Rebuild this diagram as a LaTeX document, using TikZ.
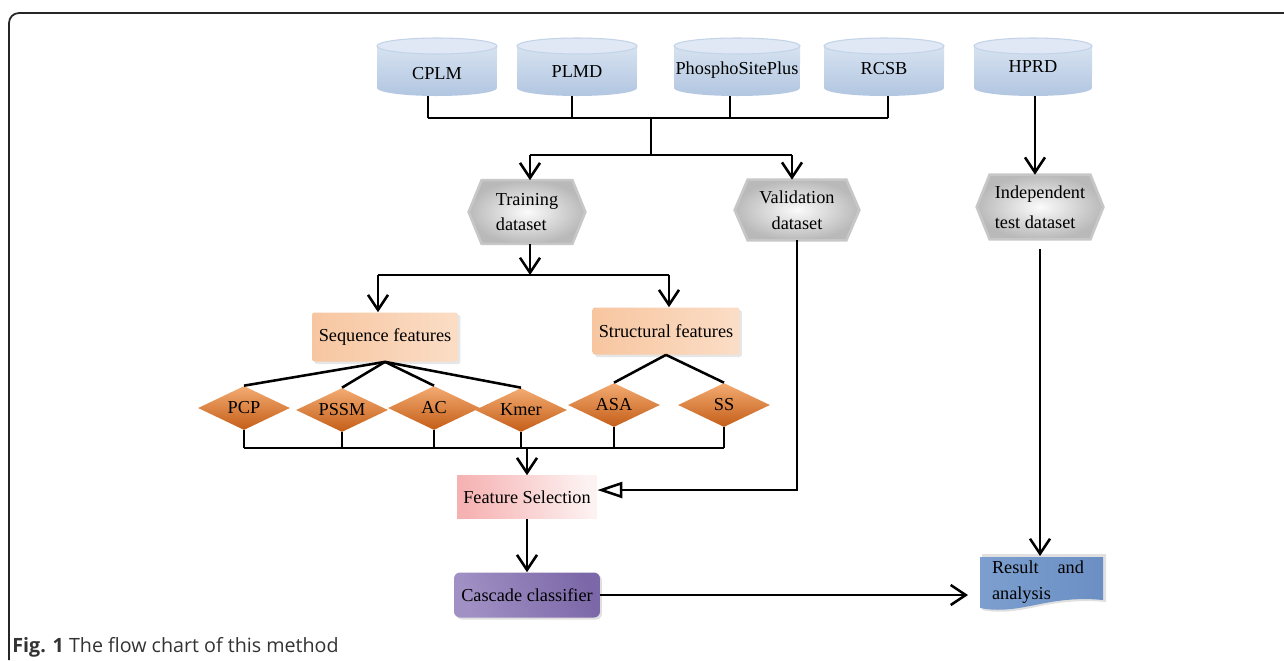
\documentclass[tikz,border=0pt]{standalone}
\usepackage{fontspec}
\setmainfont{Liberation Serif}
\newfontfamily\capfont{Open Sans}
\usetikzlibrary{arrows.meta,shapes.geometric,shadows,backgrounds}
\definecolor{cylTop}{HTML}{DFE8F4}
\definecolor{cylA}{HTML}{D6E2F0}
\definecolor{cylB}{HTML}{B2C6E1}
\definecolor{cylEdge}{HTML}{C3D3E8}
\definecolor{hexOut}{HTML}{B9B9B9}
\definecolor{hexIn}{HTML}{FBFBFB}
\definecolor{seqA}{HTML}{F7C6A0}
\definecolor{seqB}{HTML}{FBDDC6}
\definecolor{diaT}{HTML}{F3AB72}
\definecolor{diaB}{HTML}{C45E18}
\definecolor{fsL}{HTML}{F6B2B2}
\definecolor{fsM}{HTML}{F29292}
\definecolor{fsR}{HTML}{FDF2F2}
\definecolor{casL}{HTML}{A090C4}
\definecolor{casM}{HTML}{EEEAF4}
\definecolor{casR}{HTML}{7C68A8}
\definecolor{resL}{HTML}{7C9FCF}
\definecolor{resM}{HTML}{C6D6EC}
\definecolor{resR}{HTML}{6B8FC4}
\definecolor{capgray}{HTML}{333333}
\newcommand\dbcyl[6]{% name, cx, halfw(px), xradius(cm), label y, text
  \shade[top color=cylA, bottom color=cylB] (#2-#3,46) -- (#2-#3,88)
     arc[start angle=180, end angle=360, x radius=#4, y radius=0.16cm] -- (#2+#3,46) -- cycle;
  \fill[cylTop] (#2,46) ellipse[x radius=#4, y radius=0.16cm];
  \draw[cylEdge, line width=0.6pt] (#2,46) ellipse[x radius=#4, y radius=0.16cm];
  \node[inner sep=0pt, minimum width=2*#3*0.02cm, minimum height=1.16cm] (#1) at (#2,67) {};
  \node[lbl] (#1-t) at (#2,#5) {#6};
}
\newcommand\hexbg[1]{%
  \begin{pgfonlayer}{background}
  \shade[inner color=hexIn, outer color=hexOut, draw=hexOut!80, line width=1.5pt]
    (#1.west) -- ([xshift=0.26cm]#1.north west) -- ([xshift=-0.26cm]#1.north east)
    -- (#1.east) -- ([xshift=-0.26cm]#1.south east) -- ([xshift=0.26cm]#1.south west) -- cycle;
  \end{pgfonlayer}
}
\begin{document}
\begin{tikzpicture}[x=0.02cm,y=-0.02cm,
  ln/.style={line width=1.45pt, black},
  arr/.style={ln, -{Straight Barb[length=0.3cm,width=0.4cm]}},
  tri/.style={ln, -{Triangle[open,length=0.5cm,width=0.32cm]}},
  lbl/.style={font=\fontsize{10.4}{12}\selectfont, inner sep=0pt},
  hex/.style={lbl, font=\fontsize{10.4}{14.7}\selectfont},
  featbox/.style={lbl, rounded corners=0.05cm, left color=seqA, right color=seqB,
     drop shadow={shadow xshift=0.05cm, shadow yshift=-0.05cm, opacity=0.2}},
  dia/.style={diamond, aspect=2.1, inner sep=0pt, minimum width=1.84cm, minimum height=0.88cm,
     top color=diaT, bottom color=diaB, font=\fontsize{10.4}{12}\selectfont},
  ]
\useasboundingbox (0,0) rectangle (1284,660);
% frame
\draw[line width=1pt, black!85, rounded corners=0.2cm] (9,660) -- (9,13) -- (1284,13);

% databases
\dbcyl{cplm}{437}{60}{1.2cm}{74}{CPLM}
\dbcyl{plmd}{577}{60}{1.2cm}{72}{PLMD}
\dbcyl{psp}{737}{63}{1.26cm}{70}{PhosphoSitePlus}
\dbcyl{rcsb}{884}{60}{1.2cm}{69}{RCSB}
\dbcyl{hprd}{1033}{59}{1.18cm}{67}{HPRD}

% hexagons
\node[hex, align=left, minimum width=2.32cm, minimum height=1.26cm] (train) at (527,212) {Training\\dataset};
\hexbg{train}
\node[hex, align=center, minimum width=2.48cm, minimum height=1.2cm] (val) at (797,210) {Validation\\dataset};
\hexbg{val}
\node[lbl, font=\fontsize{10.4}{17}\selectfont, align=left, minimum width=2.52cm, minimum height=1.28cm] (ind) at (1040,207) {Independent\\test dataset};
\hexbg{ind}

% feature boxes
\node[featbox, minimum width=2.92cm, minimum height=0.98cm] (seq) at (385,337) {Sequence features};
\node[featbox, minimum width=2.94cm, minimum height=0.94cm] (str) at (666,331) {Structural features};

% diamonds
\node[dia] (pcp) at (244,408) {PCP};
\node[dia] (pssm) at (342,410) {PSSM};
\node[dia] (ac) at (434,408) {AC};
\node[dia] (kmer) at (521,410) {Kmer};
\node[dia] (asa) at (614,405) {ASA};
\node[dia] (ss) at (724,405) {SS};

% feature selection and classifier
\node[lbl, minimum width=2.8cm, minimum height=0.86cm, left color=fsL, middle color=fsM, right color=fsR,
  shading angle=100] (fs) at (527,497) {Feature Selection};
\node[lbl, minimum width=2.92cm, minimum height=0.9cm, rounded corners=0.12cm,
  left color=casL, middle color=casM, right color=casR, shading angle=110,
  drop shadow={shadow xshift=0.04cm, shadow yshift=-0.04cm, opacity=0.25}] (cas) at (527,595) {Cascade classifier};

% result (document shape)
\fill[black, opacity=0.12] (982,554) -- (1106,554) -- (1106,602) .. controls (1074,599) and (1050,604) .. (1031,608)
   .. controls (1011,612) and (996,613) .. (982,610) -- cycle;
\shade[left color=resL, middle color=resM, right color=resR]
   (980,557) -- (1103,557) -- (1103,600) .. controls (1072,597) and (1050,602) .. (1030,606)
   .. controls (1010,610) and (995,611) .. (980,608) -- cycle;
\node[lbl, font=\fontsize{10.4}{14.7}\selectfont, align=left, minimum width=2.46cm, minimum height=1.02cm] (res) at (1038,582)
  {\hbox to 1.84cm{Result\hfill and}\\analysis};

% connectors: databases to datasets
\coordinate (s1) at (428,118);
\coordinate (s2) at (572,118);
\coordinate (s3) at (730,118);
\coordinate (s4) at (888,118);
\coordinate (j1) at (651,118);
\coordinate (b2) at (651,155);
\coordinate (b2l) at (530,155);
\coordinate (b2r) at (792,155);
\draw[ln] (cplm.south -| s1) -- (s1);
\draw[ln] (plmd.south -| s2) -- (s2);
\draw[ln] (psp.south -| s3) -- (s3);
\draw[ln] (rcsb.south -| s4) -- (s4);
\draw[ln] (s1) -- (s4);
\draw[ln] (j1) -- (b2);
\draw[ln] (b2l) -- (b2r);
\draw[arr] (b2l) -- (train.north -| b2l);
\draw[arr] (b2r) -- (val.north -| b2r);
\coordinate (hx) at (1035,100);
\draw[arr] (hprd.south -| hx) -- (ind.north -| hx);

% training to features
\coordinate (b3) at (530,275);
\coordinate (b3l) at (378,275);
\coordinate (b3r) at (669,275);
\draw[arr] (train.south -| b3) -- (b3);
\draw[ln] (b3l) -- (b3r);
\draw[arr] (b3l) -- (seq.north -| b3l);
\draw[arr] (b3r) -- (str.north -| b3r);

% feature groups to features
\draw[ln] (seq.south) -- (pcp.north);
\draw[ln] (seq.south) -- (pssm.north);
\draw[ln] (seq.south) -- (ac.north);
\draw[ln] (seq.south) -- (kmer.north);
\draw[ln] (str.south) -- (asa.north);
\draw[ln] (str.south) -- (ss.north);

% features to selection
\coordinate (b4) at (527,448);
\draw[ln] (pcp.south) -- (pcp.south |- b4);
\draw[ln] (pssm.south) -- (pssm.south |- b4);
\draw[ln] (ac.south) -- (ac.south |- b4);
\draw[ln] (kmer.south) -- (kmer.south |- b4);
\draw[ln] (asa.south) -- (asa.south |- b4);
\draw[ln] (ss.south) -- (ss.south |- b4);
\draw[ln] (pcp.south |- b4) -- (ss.south |- b4);
\draw[arr] (b4) -- (fs.north);

% validation to selection
\coordinate (vb) at (797,490);
\draw[tri] (val.south) -- (vb) -- (vb -| fs.east);

% selection to classifier to result
\draw[arr] (fs.south) -- (cas.north);
\coordinate (rin) at (968,594);
\draw[arr] (cas.east) -- (cas.east -| rin);
\coordinate (rtop) at (1040,556);
\draw[arr] ([yshift=-0.2cm]ind.south) -- (rtop);

% caption
\node[anchor=base west, inner sep=0pt, text=capgray, font=\capfont\fontsize{11.2}{13}\selectfont] (cap) at (12,652)
  {\textbf{Fig. 1} The flow chart of this method};
\end{tikzpicture}
\end{document}
